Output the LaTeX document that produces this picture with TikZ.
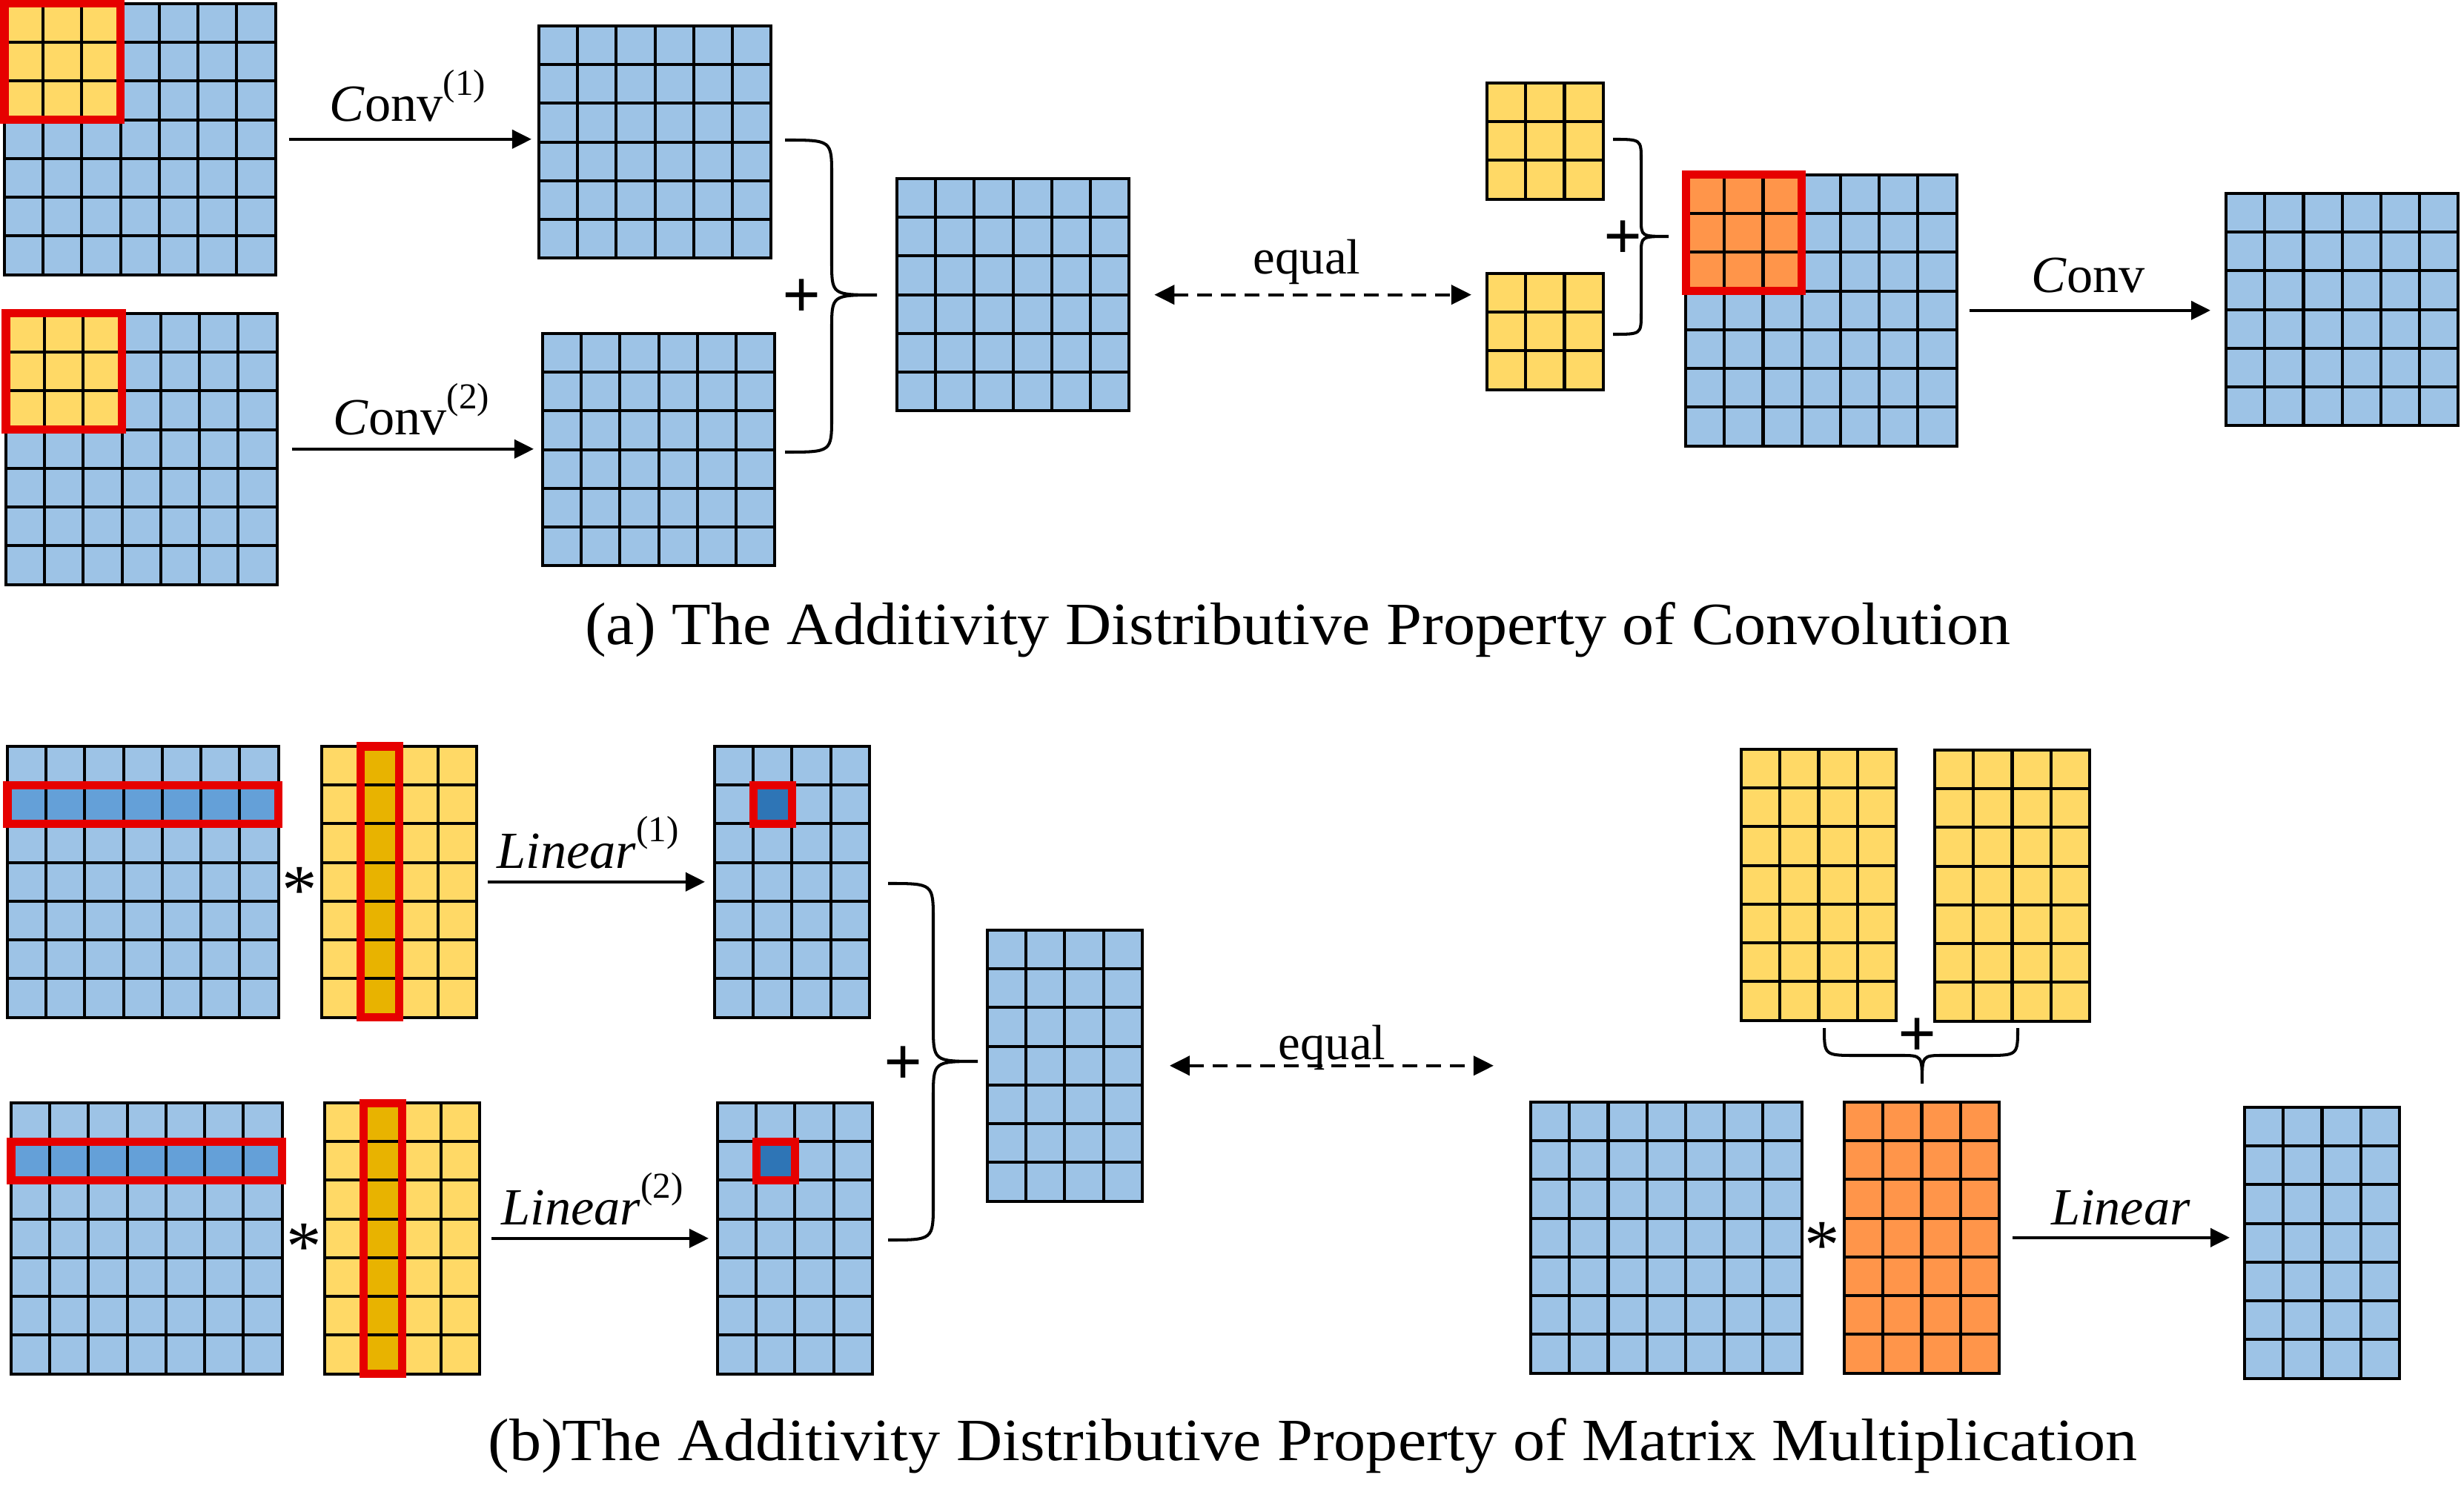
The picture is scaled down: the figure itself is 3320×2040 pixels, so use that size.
\documentclass[tikz,border=0pt]{standalone}
\usepackage{fontspec}
\setmainfont{Liberation Serif}
\usetikzlibrary{arrows.meta}
\definecolor{cblue}{HTML}{9DC3E6}
\definecolor{cylw}{HTML}{FFD966}
\definecolor{corng}{HTML}{FF954A}
\definecolor{cred}{HTML}{E60000}
\definecolor{crow}{HTML}{64A0D8}
\definecolor{ccell}{HTML}{2E75B6}
\definecolor{cgold}{HTML}{E8B300}
\newcommand\supp[1]{\raisebox{0.5em}{\fontsize{14}{14}\selectfont #1}}
% name, x, y, cols, rows, fill, extra
\newcommand\mgrid[7]{%
  \node[cellbox, fill=#6, minimum width=#4*0.522cm, minimum height=#5*0.522cm] (#1) at (#2,#3) {};
  #7
  \foreach \k in {0,...,#4} \draw[gridline] ([xshift=\k*0.522cm]#1.north west) -- ([xshift=\k*0.522cm]#1.south west);
  \foreach \k in {0,...,#5} \draw[gridline] ([yshift=-\k*0.522cm]#1.north west) -- ([yshift=-\k*0.522cm]#1.north east);
}
\begin{document}
\begin{tikzpicture}[x=0.01cm,y=-0.01cm,
  cellbox/.style={anchor=north west, inner sep=0pt, outer sep=0pt, draw=none},
  gridline/.style={line width=1.15pt, line cap=rect, black},
  redbox/.style={draw=cred, line width=0.11cm},
  arr/.style={line width=1.15pt, -{Triangle[length=0.26cm,width=0.25cm]}},
  darr/.style={line width=1.15pt, dash pattern=on 0.2cm off 0.12cm,
     {Triangle[length=0.27cm,width=0.26cm]}-{Triangle[length=0.27cm,width=0.26cm]}},
  brace/.style={line width=1.15pt},
  lbl/.style={font=\fontsize{20}{24}\selectfont, inner sep=0pt, anchor=base},
  eqlbl/.style={font=\fontsize{19}{23}\selectfont, inner sep=0pt, anchor=base},
  captxt/.style={font=\fontsize{23}{28}\selectfont, inner sep=0pt, anchor=base},
  op/.style={font=\fontsize{26}{30}\selectfont\bfseries, inner sep=0pt},
  star/.style={font=\fontsize{27}{30}\selectfont, inner sep=0pt, anchor=base}]
\useasboundingbox (0,0) rectangle (3320,2040);
\def\cs{52.2}
% ---------------- (a) ----------------
\mgrid{A1}{6}{5}{7}{7}{cblue}{\fill[cylw] (A1.north west) rectangle ++(3*\cs,3*\cs);}
\mgrid{A2}{8}{423}{7}{7}{cblue}{\fill[cylw] (A2.north west) rectangle ++(3*\cs,3*\cs);}
\mgrid{B1}{727}{35}{6}{6}{cblue}{}
\mgrid{B2}{732}{450}{6}{6}{cblue}{}
\mgrid{C}{1210}{241}{6}{6}{cblue}{}
\mgrid{K1}{2006}{112}{3}{3}{cylw}{}
\mgrid{K2}{2006}{369}{3}{3}{cylw}{}
\mgrid{D}{2274}{236}{7}{7}{cblue}{\fill[corng] (D.north west) rectangle ++(3*\cs,3*\cs);}
\mgrid{E}{3003}{261}{6}{6}{cblue}{}
\draw[redbox] (A1.north west) rectangle ++(3*\cs,3*\cs);
\draw[redbox] (A2.north west) rectangle ++(3*\cs,3*\cs);
\draw[redbox] (D.north west) rectangle ++(3*\cs,3*\cs);

\draw[arr, shorten <=0.18cm, shorten >=0.1cm] (A1.east) -- (A1.east -| B1.west);
\draw[arr, shorten <=0.2cm, shorten >=0.12cm] (A2.east) -- (A2.east -| B2.west);
\draw[arr, shorten <=0.17cm, shorten >=0.21cm] (D.east) -- (D.east -| E.west);
\draw[darr, shorten <=0.34cm, shorten >=0.21cm] (C.east) -- (C.east -| K2.west);

\node[lbl] (l1) at (550,164) {\textit{C}onv\supp{(1)}};
\node[lbl] (l2) at (555,587) {\textit{C}onv\supp{(2)}};
\node[lbl] (l3) at (2817,395) {\textit{C}onv};
\node[eqlbl] (e1) at (1763,370) {equal};

\draw[brace] (1059,189) .. controls (1122,189) .. (1122,237) -- (1122,352)
  .. controls (1122,398) .. (1183,398) .. controls (1122,398) .. (1122,444)
  -- (1122,562) .. controls (1122,610) .. (1059,610);
\node[op] (p1) at (1082,403) {+};
\draw[brace] (2176,188) .. controls (2214,188) .. (2214,216) -- (2214,296)
  .. controls (2214,319) .. (2251,319) .. controls (2214,319) .. (2214,342)
  -- (2214,423) .. controls (2214,451) .. (2176,451);
\node[op] (p2) at (2190,324) {+};

\node[captxt] (capa) at (1751,870) {\scalebox{1.065}[1]{(a) The Additivity Distributive Property of Convolution}};

% ---------------- (b) ----------------
\mgrid{P1}{10}{1007}{7}{7}{cblue}{\fill[crow] ([yshift=-0.522cm]P1.north west) rectangle ++(7*\cs,\cs);}
\mgrid{Q1}{434}{1007}{4}{7}{cylw}{\fill[cgold] ([xshift=0.522cm]Q1.north west) rectangle ++(\cs,7*\cs);}
\mgrid{R1}{964}{1007}{4}{7}{cblue}{\fill[ccell] ([shift={(0.522cm,-0.522cm)}]R1.north west) rectangle ++(\cs,\cs);}
\mgrid{P2}{15}{1488}{7}{7}{cblue}{\fill[crow] ([yshift=-0.522cm]P2.north west) rectangle ++(7*\cs,\cs);}
\mgrid{Q2}{438}{1488}{4}{7}{cylw}{\fill[cgold] ([xshift=0.522cm]Q2.north west) rectangle ++(\cs,7*\cs);}
\mgrid{R2}{968}{1488}{4}{7}{cblue}{\fill[ccell] ([shift={(0.522cm,-0.522cm)}]R2.north west) rectangle ++(\cs,\cs);}
\mgrid{S}{1332}{1255}{4}{7}{cblue}{}
\mgrid{U1}{2349}{1011}{4}{7}{cylw}{}
\mgrid{U2}{2610}{1012}{4}{7}{cylw}{}
\mgrid{T}{2065}{1487}{7}{7}{cblue}{}
\mgrid{V}{2488}{1487}{4}{7}{corng}{}
\mgrid{W}{3028}{1494}{4}{7}{cblue}{}

\draw[redbox] ([yshift=-0.522cm]P1.north west) rectangle ++(7*\cs,\cs);
\draw[redbox] ([xshift=0.522cm]Q1.north west) rectangle ++(\cs,7*\cs);
\draw[redbox] ([shift={(0.522cm,-0.522cm)}]R1.north west) rectangle ++(\cs,\cs);
\draw[redbox] ([yshift=-0.522cm]P2.north west) rectangle ++(7*\cs,\cs);
\draw[redbox] ([xshift=0.522cm]Q2.north west) rectangle ++(\cs,7*\cs);
\draw[redbox] ([shift={(0.522cm,-0.522cm)}]R2.north west) rectangle ++(\cs,\cs);

\node[star] (s1) at (404,1232) {*};
\node[star] (s2) at (410,1713) {*};
\node[star] (s3) at (2458,1711) {*};

\draw[arr, shorten <=0.15cm, shorten >=0.13cm] (Q1.east) -- (Q1.east -| R1.west);
\draw[arr, shorten <=0.16cm, shorten >=0.12cm] (Q2.east) -- (Q2.east -| R2.west);
\draw[arr, shorten <=0.18cm, shorten >=0.2cm] (V.east) -- (V.east -| W.west);
\draw[darr, shorten <=0.37cm, shorten >=0.5cm] (S.east) -- (S.east -| T.west);

\node[lbl] (l4) at (793,1171) {\textit{Linear}\supp{(1)}};
\node[lbl] (l5) at (799,1652) {\textit{Linear}\supp{(2)}};
\node[lbl] (l6) at (2861,1652) {\textit{Linear}};
\node[eqlbl] (e2) at (1797,1429) {equal};

\draw[brace] (1198,1192) .. controls (1259,1192) .. (1259,1242) -- (1259,1383)
  .. controls (1259,1432) .. (1319,1432) .. controls (1259,1432) .. (1259,1481)
  -- (1259,1623) .. controls (1259,1673) .. (1198,1673);
\node[op] (p3) at (1219,1438) {+};
\draw[brace] (2461,1387) .. controls (2461,1424) .. (2505,1424) -- (2564,1424)
  .. controls (2593,1424) .. (2593,1462) .. controls (2593,1424) .. (2622,1424)
  -- (2678,1424) .. controls (2722,1424) .. (2722,1387);
\node[op] (p4) at (2587,1400) {+};

\node[captxt] (capb) at (1771,1970) {\scalebox{1.065}[1]{(b)The Additivity Distributive Property of Matrix Multiplication}};
\end{tikzpicture}
\end{document}
